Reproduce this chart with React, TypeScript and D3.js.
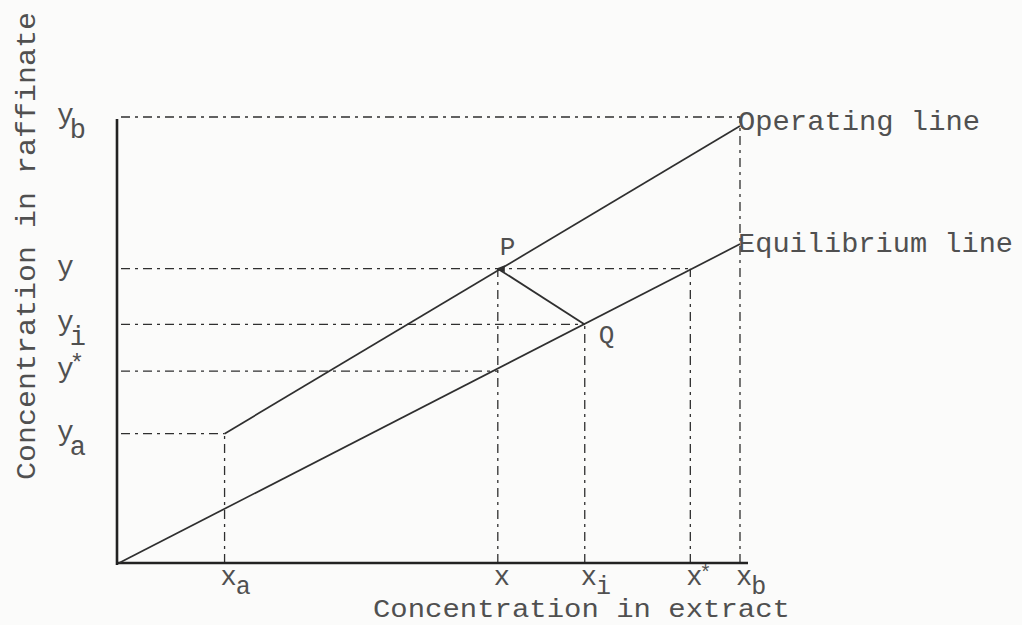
import React from "react";
import * as d3 from "d3";

// ---- data (arbitrary 0..1 units) ----
const xNames = ["a", "", "i", "*", "b"];
const xValues = [0.17, 0.61, 0.75, 0.92, 1.0];
const yNames = ["a", "*", "i", "", "b"];
const yValues = [0.29, 0.43, 0.535, 0.66, 1.0];

const operatingLine: [number, number][] = [[0.17, 0.29], [1.0, 0.98]];
const equilibriumLine: [number, number][] = [[0, 0], [1.0, 0.715]];
const pointP: [number, number] = [0.61, 0.66];
const pointQ: [number, number] = [0.75, 0.535];

// dashed guides: horizontal [y, xEnd], vertical [x, yEnd]
const hGuides: [number, number][] = [[1.0, 1.0], [0.66, 0.92], [0.535, 0.75], [0.43, 0.61], [0.29, 0.17]];
const vGuides: [number, number][] = [[0.17, 0.29], [0.61, 0.66], [0.75, 0.535], [0.92, 0.66], [1.0, 1.0]];

const W = 1022, H = 625;
const FONT = "'Liberation Mono', 'DejaVu Sans Mono', monospace";
const TXT = "#505050";
const INK = "#2f2f2f";

export default function App() {
  const x = d3.scaleLinear().domain([0, 1]).range([119, 740]);
  const y = d3.scaleLinear().domain([0, 1]).range([563, 117]);
  const line = d3.line<[number, number]>().x(d => x(d[0])).y(d => y(d[1]));
  const dash = "9 5 3 5";

  return (
    <svg width={W} height={H} style={{ position: "absolute", left: 0, top: 0, background: "#fbfbfa" }}>
      {/* dashed guides */}
      {hGuides.map(([yv, xe], i) => (
        <line key={"h" + i} x1={x(0) + 2} x2={x(xe)} y1={y(yv)} y2={y(yv)}
          stroke={INK} strokeWidth={1.3} strokeDasharray={dash} />
      ))}
      {vGuides.map(([xv, ye], i) => (
        <line key={"v" + i} x1={x(xv)} x2={x(xv)} y1={y(0)} y2={y(ye)}
          stroke={INK} strokeWidth={1.3} strokeDasharray={dash} />
      ))}

      {/* axes */}
      <line x1={x(0) - 2} x2={x(0) - 2} y1={y(1) + 2} y2={y(0) + 2} stroke="#222" strokeWidth={2.6} />
      <line x1={x(0) - 3} x2={x(1) + 8} y1={y(0)} y2={y(0)} stroke="#222" strokeWidth={2.4} />

      {/* lines */}
      <path d={line(operatingLine) || ""} fill="none" stroke={INK} strokeWidth={1.7} />
      <path d={line(equilibriumLine) || ""} fill="none" stroke={INK} strokeWidth={1.7} />
      <path d={line([pointP, pointQ]) || ""} fill="none" stroke={INK} strokeWidth={1.8} />
      {/* small arrowhead at P */}
      <path d={`M${x(pointP[0]) - 2},${y(pointP[1])} l9,-3.5 l0,7 z`} fill={INK} />

      {/* point labels */}
      <text x={x(pointP[0]) + 2} y={y(pointP[1]) - 14} fontFamily={FONT} fontSize={26} fill={TXT}>P</text>
      <text x={x(pointQ[0]) + 14} y={y(pointQ[1]) + 19} fontFamily={FONT} fontSize={26} fill={TXT}>Q</text>

      {/* y labels */}
      {yValues.map((v, i) => (
        <text key={"yl" + i} x={57} y={y(v) + 6} fontFamily={FONT} fontSize={28} fill={TXT}>
          y
          {yNames[i] === "*" ? (
            <tspan dx={-4} dy={-6} fontSize={24}>*</tspan>
          ) : yNames[i] ? (
            <tspan dx={-4} dy={15} fontSize={27}>{yNames[i]}</tspan>
          ) : null}
        </text>
      ))}

      {/* x labels */}
      {xValues.map((v, i) => (
        <text key={"xl" + i} x={x(v) - 4} y={585} fontFamily={FONT} fontSize={27} fill={TXT}>
          x
          {xNames[i] === "*" ? (
            <tspan dx={-3} dy={-6} fontSize={20}>*</tspan>
          ) : xNames[i] ? (
            <tspan dx={-1} dy={9} fontSize={25}>{xNames[i]}</tspan>
          ) : null}
        </text>
      ))}

      {/* line labels */}
      <text x={x(1) - 2} y={130} fontFamily={FONT} fontSize={28} fill={TXT}
        textLength={242} lengthAdjust="spacingAndGlyphs">Operating line</text>
      <text x={x(1) - 2} y={252} fontFamily={FONT} fontSize={28} fill={TXT}
        textLength={275} lengthAdjust="spacingAndGlyphs">Equilibrium line</text>

      {/* axis titles */}
      <text x={373} y={617} fontFamily={FONT} fontSize={26} fill={TXT}
        textLength={417} lengthAdjust="spacingAndGlyphs">Concentration in extract</text>
      <text transform="translate(35,480) rotate(-90)" x={0} y={0} fontFamily={FONT} fontSize={28} fill={TXT}
        textLength={468} lengthAdjust="spacingAndGlyphs">Concentration in raffinate</text>
    </svg>
  );
}
